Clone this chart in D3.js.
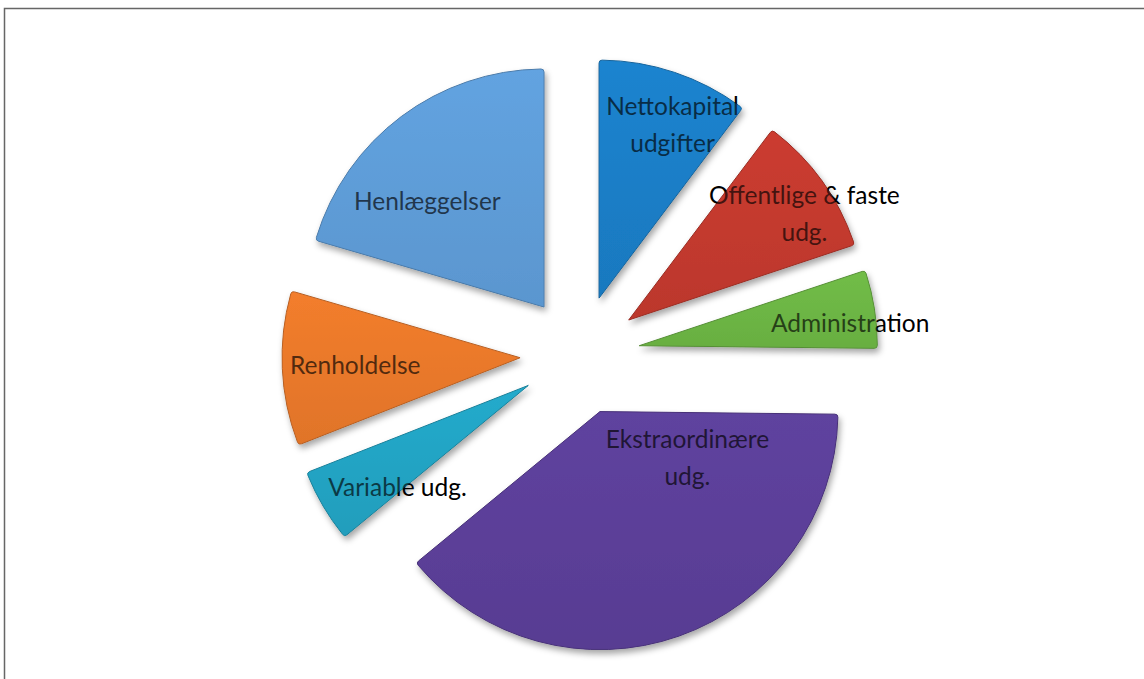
<!DOCTYPE html>
<html>
<head>
<meta charset="utf-8">
<script src="https://cdn.jsdelivr.net/npm/d3@7"></script>
<style>
  body { margin: 0; background: #fff; }
  svg { display: block; }
</style>
</head>
<body>
<script>
var svgWidth = 1144;
var svgHeight = 679;

// slice data, clockwise from 12 o'clock
var categories = ["Nettokapital udgifter", "Offentlige & faste udg.", "Administration",
  "Ekstraordinære udg.", "Variable udg.", "Renholdelse", "Henlæggelser"];
var shares = [10.3, 9.6, 5.3, 38.9, 5.0, 10.5, 20.5];
var colors = ["#1a7ec6", "#c23a2e", "#6cb544", "#5b3f98", "#22a3c3", "#e8782a", "#5e9cd6"];

// label lines (as Excel wrapped them)
var labelLines = [["Nettokapital", "udgifter"], ["Offentlige & faste", "udg."], ["Administration"],
  ["Ekstraordinære", "udg."], ["Variable udg."], ["Renholdelse"], ["Henlæggelser"]];
// label placement: angle (deg, clockwise from top) and distance from the slice tip
var labelAngle = [23, 59, 84, 118, 232, 267, 312];
var labelDist = [188, 205, 212, 99, 166, 165, 157];

var cx = 580, cy = 355;
var radius = 238;
var explode = 60;

var svg = d3.select("body").append("svg")
  .attr("width", svgWidth)
  .attr("height", svgHeight);

// frame (scanned page border)
svg.append("path")
  .attr("d", "M4.5," + svgHeight + "V8.5H" + svgWidth)
  .attr("fill", "none")
  .attr("stroke", "#666")
  .attr("stroke-width", 1.5);

var defs = svg.append("defs");
var shadow = defs.append("filter").attr("id", "shadow")
  .attr("x", "-20%").attr("y", "-20%").attr("width", "140%").attr("height", "140%");
shadow.append("feDropShadow")
  .attr("dx", 2).attr("dy", 4).attr("stdDeviation", 3)
  .attr("flood-color", "#000").attr("flood-opacity", 0.35);

colors.forEach(function(c, i) {
  var g = defs.append("linearGradient").attr("id", "grad" + i)
    .attr("x1", 0).attr("y1", 0).attr("x2", 0).attr("y2", 1);
  g.append("stop").attr("offset", "0%").attr("stop-color", d3.color(c).brighter(0.2));
  g.append("stop").attr("offset", "100%").attr("stop-color", d3.color(c).darker(0.15));
});

var pie = d3.pie().sort(null).value(d => d)(shares);
var arc = d3.arc().innerRadius(0).outerRadius(radius).cornerRadius(3);

function offset(d) {
  var a = (d.startAngle + d.endAngle) / 2;
  return [cx + explode * Math.sin(a), cy - explode * Math.cos(a)];
}

var chartGroup = svg.append("g");

chartGroup.selectAll(".slice")
  .data(pie)
  .enter()
  .append("path")
  .attr("class", "slice")
  .attr("transform", d => "translate(" + offset(d) + ")")
  .attr("d", arc)
  .attr("fill", (d, i) => "url(#grad" + i + ")")
  .attr("stroke", (d, i) => d3.color(colors[i]).darker(0.8))
  .attr("stroke-width", 1)
  .attr("filter", "url(#shadow)");

// labels
var labels = chartGroup.selectAll(".lbl")
  .data(pie)
  .enter()
  .append("text")
  .attr("class", "lbl")
  .attr("font-family", "Lato, 'Open Sans', sans-serif")
  .attr("font-size", 24.5)
  .attr("fill", "#000")
  .attr("text-anchor", "middle")
  .attr("transform", function(d, i) {
    var t = offset(d);
    var a = labelAngle[i] * Math.PI / 180;
    return "translate(" + (t[0] + labelDist[i] * Math.sin(a)) + "," + (t[1] - labelDist[i] * Math.cos(a)) + ")";
  });

labels.each(function(d, i) {
  var lines = labelLines[i];
  var lh = 37;
  var t = d3.select(this);
  lines.forEach(function(l, k) {
    t.append("tspan")
      .attr("x", 0)
      .attr("y", (k - (lines.length - 1) / 2) * lh + 8)
      .text(l);
  });
});

// translucent slice layer on top, tints the text lying inside the slices
chartGroup.selectAll(".tint")
  .data(pie)
  .enter()
  .append("path")
  .attr("class", "tint")
  .attr("transform", d => "translate(" + offset(d) + ")")
  .attr("d", arc)
  .attr("fill", (d, i) => colors[i])
  .attr("opacity", 0.35);
</script>
</body>
</html>
